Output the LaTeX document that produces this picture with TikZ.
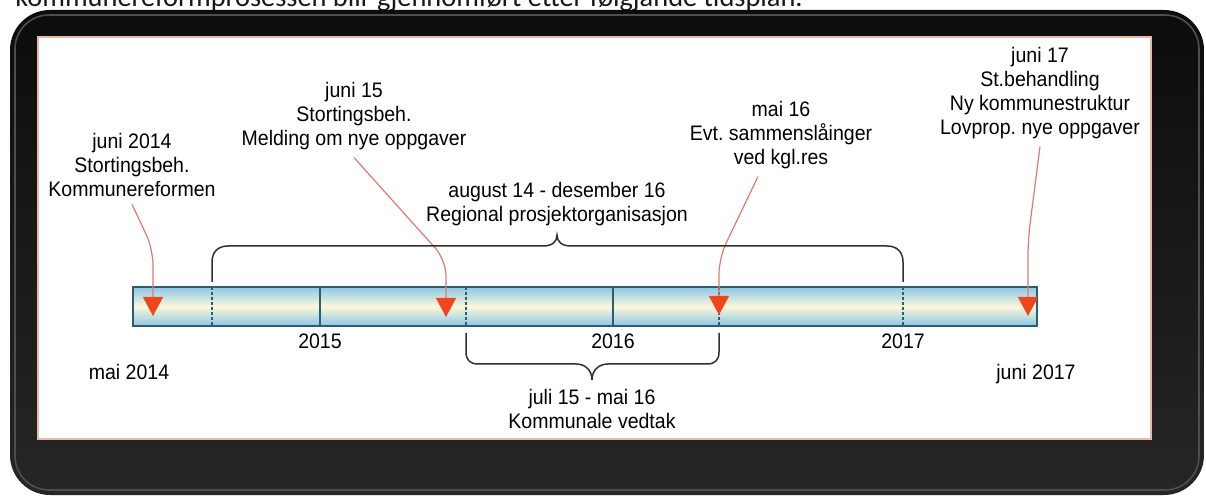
\documentclass[tikz,border=0pt]{standalone}
\usepackage{fontspec}
\setmainfont{Liberation Sans}[FakeStretch=0.93]
\newfontfamily\introfont{Carlito}
\usetikzlibrary{arrows.meta}

\definecolor{framedark}{HTML}{0C0C0C}
\definecolor{framegray}{HTML}{262626}
\definecolor{bevelgray}{HTML}{4E4E4E}
\definecolor{edgesalmon}{HTML}{E9B9A6}
\definecolor{barblue}{HTML}{8DC6E6}
\definecolor{barcream}{HTML}{FBF8DA}
\definecolor{barline}{HTML}{2D5D6E}
\definecolor{markline}{HTML}{E07A70}
\definecolor{markred}{HTML}{F0461E}
\definecolor{bracegray}{HTML}{303030}

\tikzstyle{event} = [align=center,inner sep=0pt,outer ysep=4pt,anchor=north,font=\fontsize{10.5}{12}\selectfont]
\tikzstyle{datelabel} = [inner sep=0pt,anchor=base,font=\fontsize{10.5}{12}\selectfont]
\tikzstyle{markerline} = [draw=markline,line width=0.6pt,rounded corners=8pt]
\tikzstyle{spanbrace} = [draw=bracegray,line width=0.75pt]

\begin{document}
\frenchspacing
\begin{tikzpicture}[x=0.5pt,y=-0.5pt]
		\clip (0,0) rectangle (1206,497);
		\fill[white] (0,0) rectangle (1206,497);
		\node[anchor=base west,inner sep=0pt,text=black!90,font=\introfont\fontsize{14.2}{16}\selectfont] (intro) at (15,7) {kommunereformprosessen blir gjennomført etter følgjande tidsplan.};
		% frame
		\shade[rounded corners=20pt,top color=framedark,bottom color=framegray] (10,10) rectangle (1204,495);
		\draw[bevelgray,line width=0.8pt,rounded corners=17pt] (15,15) rectangle (1199,490);
		\fill[white] (38,37) rectangle (1151,439);
		\draw[edgesalmon,line width=0.6pt] (38,37) rectangle (1151,439);
		% time bar
		\shade[top color=barblue,bottom color=barblue,middle color=barcream] (133,287) rectangle (1037,326);
		\foreach \x in {320,613}
			\draw[barline,line width=0.6pt] (\x,287) -- (\x,326);
		\foreach \x in {212,466,719,903}
			\draw[barline,line width=0.6pt,dash pattern=on 1.5pt off 1pt] (\x,287) -- (\x,326);
		\draw[barline,line width=0.75pt] (133,287) rectangle (1037,326);
		\coordinate (m1) at (153,316);
		\coordinate (m2) at (446,317);
		\coordinate (m3) at (719,315);
		\coordinate (m4) at (1028,316);
		% events
		\node[event] (e1) at (132,125) {juni 2014\\Stortingsbeh.\\Kommunereformen};
		\node[event] (e2) at (354,74) {juni 15\\Stortingsbeh.\\Melding om nye oppgaver};
		\node[event] (e3) at (781,93) {mai 16\\Evt. sammenslåinger\\ved kgl.res};
		\node[event] (e4) at (1040,39) {juni 17\\St.behandling\\Ny kommunestruktur\\Lovprop. nye oppgaver};
		\draw[markerline,-{Triangle[width=10pt,length=9.5pt,color=markred]}] (e1.south) -- (153,249) -- (m1);
		\draw[markerline,-{Triangle[width=10pt,length=9.5pt,color=markred]}] (e2.south) -- (446,260) -- (m2);
		\draw[markerline,-{Triangle[width=10pt,length=9.5pt,color=markred]}] ([xshift=-11.5pt]e3.south) -- (719,258) -- (m3);
		\draw[markerline,-{Triangle[width=10pt,length=9.5pt,color=markred]}] (e4.south) -- (1028,240) -- (m4);
		% spans
		\draw[spanbrace] (212,282) -- (212,262) .. controls (212,252) and (218,246) .. (228,246) -- (543,246) .. controls (552,246) and (557,242) .. (557,235) .. controls (557,242) and (562,246) .. (571,246) -- (887,246) .. controls (897,246) and (903,252) .. (903,262) -- (903,282);
		\draw[spanbrace] (466,333) -- (466,352) .. controls (466,360) and (470,364) .. (478,364) -- (576,364) .. controls (586,364) and (592,371) .. (592,380) .. controls (592,371) and (598,364) .. (608,364) -- (707,364) .. controls (715,364) and (719,360) .. (719,352) -- (719,333);
		\node[event] (s1) at (557,174) {august 14 - desember 16\\Regional prosjektorganisasjon};
		\node[event] (s2) at (592,381) {juli 15 - mai 16\\Kommunale vedtak};
		% dates
		\node[datelabel] (y1) at (320,349) {2015};
		\node[datelabel] (y2) at (613,349) {2016};
		\node[datelabel] (y3) at (903,349) {2017};
		\node[datelabel] (d1) at (129,380) {mai 2014};
		\node[datelabel] (d2) at (1036,380) {juni 2017};
\end{tikzpicture}
\end{document}
